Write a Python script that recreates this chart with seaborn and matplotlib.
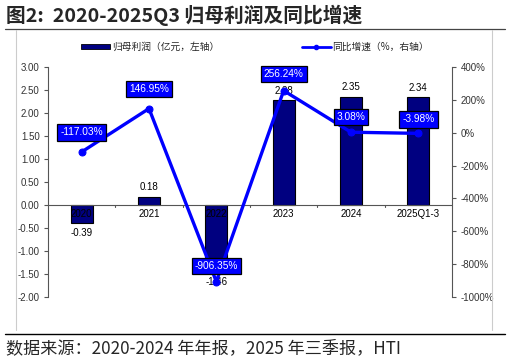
import numpy as np, pandas as pd
import matplotlib; matplotlib.use("Agg")
import matplotlib.pyplot as plt
from matplotlib.lines import Line2D
import seaborn as sns

sns.set_style("white")
plt.rcParams["font.family"] = ["Liberation Sans", "Noto Sans CJK SC", "DejaVu Sans"]

# ---------- data ----------
years = ["2020", "2021", "2022", "2023", "2024", "2025Q1-3"]
profit = [-0.39, 0.18, -1.46, 2.28, 2.35, 2.34]          # 亿元, left axis
growth = [-117.03, 146.95, -906.35, 256.24, 3.08, -3.98]  # %, right axis
left_ticks = [3.0, 2.5, 2.0, 1.5, 1.0, 0.5, 0.0, -0.5, -1.0, -1.5, -2.0]
right_ticks = [400, 200, 0, -200, -400, -600, -800, -1000]

df = pd.DataFrame({"year": years, "profit": profit, "growth": growth,
                   "pos": np.arange(len(years))})

W, H = 510, 361
fig = plt.figure(figsize=(W / 100, H / 100), dpi=100)
ax = fig.add_axes([48 / W, 1 - 297 / H, (452 - 48) / W, (297 - 67) / H])

NAVY = "#000080"
BLUE = "#0000FF"
TXT = "#333333"

sns.barplot(data=df, x="year", y="profit", color=NAVY, saturation=1, width=0.33,
            edgecolor="black", linewidth=0.8, ax=ax, zorder=2)
ax.set_xlim(-0.5, 5.5)
ax.set_ylim(-2.0, 3.0)
ax.set_yticks(left_ticks)
ax.set_yticklabels([f"{v:.2f}" for v in left_ticks], fontsize=7, color=TXT)
ax.set_xlabel(""); ax.set_ylabel("")
for s in ["top", "right", "bottom"]:
    ax.spines[s].set_visible(False)
ax.spines["left"].set_color("#555555"); ax.spines["left"].set_linewidth(0.8)
ax.tick_params(axis="y", length=3, width=0.8, color="#555555", pad=3)
ax.axhline(0, color="#555555", lw=0.8, zorder=3)
ax.set_xticks([])
for i, y in enumerate(years):
    ax.text(i, -0.08, y, ha="center", va="top", fontsize=7, color="black", zorder=6)
for b in np.arange(0.5, 5.5, 1.0):
    ax.plot([b, b], [0, -0.05], color="#555555", lw=0.8, zorder=3)
for i, v in enumerate(profit):
    if v < 0:
        ax.text(i, v - 0.1, f"{v:.2f}", ha="center", va="top", fontsize=7, color="black", zorder=6)
    else:
        ax.text(i, v + 0.1, f"{v:.2f}", ha="center", va="bottom", fontsize=7, color="black", zorder=6)

ax2 = ax.twinx()
sns.lineplot(data=df, x="pos", y="growth", color=BLUE, lw=2.4, marker="o", markersize=5,
             markeredgecolor=BLUE, ax=ax2, zorder=4)
ax2.set_xlim(-0.5, 5.5)
ax2.set_ylim(-1000, 400)
ax2.set_yticks(right_ticks)
ax2.set_yticklabels([f"{v}%" for v in right_ticks], fontsize=7, color=TXT)
ax2.set_xlabel(""); ax2.set_ylabel("")
for s in ["top", "left", "bottom"]:
    ax2.spines[s].set_visible(False)
ax2.spines["right"].set_color("#555555"); ax2.spines["right"].set_linewidth(0.8)
ax2.tick_params(axis="y", length=3, width=0.8, color="#555555", pad=3)

# growth labels (offsets in points)
offs = [(0, 14), (0, 14), (0, 11), (0, 12), (0, 11), (0, 10)]
for i, (v, o) in enumerate(zip(growth, offs)):
    ax2.annotate(f"{v:.2f}%", (i, v), xytext=o, textcoords="offset points",
                 ha="center", va="center", fontsize=7.3, color="white", zorder=7,
                 bbox=dict(boxstyle="square,pad=0.3", fc=BLUE, ec="black", lw=0.9))

# legend
h1 = plt.Rectangle((0, 0), 1, 1, fc=NAVY, ec="black", lw=0.6)
h2 = Line2D([0], [0], color=BLUE, lw=2, marker="o", markersize=3)
fig.legend([h1, h2], ["归母利润（亿元，左轴）", "同比增速（%，右轴）"], loc="center",
           bbox_to_anchor=(0.5, 1 - 47 / H), ncol=2, frameon=False,
           columnspacing=8.5, handlelength=3.0, handleheight=0.4, handletextpad=0.15,
           prop={"family": ["Noto Sans CJK SC"], "size": 7})

# title, frame, source
fig.text(6 / W, 1 - 15 / H, "图2:  2020-2025Q3 归母利润及同比增速", fontsize=14.2,
         fontweight="bold", family=["Noto Sans CJK SC"], va="center", ha="left")
fig.add_artist(Line2D([5 / W, 505 / W], [1 - 29 / H] * 2, color="#444444", lw=0.9))
fig.add_artist(Line2D([16 / W, 16 / W], [1 - 30 / H, 1 - 330 / H], color="#cccccc", lw=0.8))
fig.add_artist(Line2D([492 / W, 492 / W], [1 - 30 / H, 1 - 330 / H], color="#cccccc", lw=0.8))
fig.add_artist(Line2D([5 / W, 505 / W], [1 - 334 / H] * 2, color="black", lw=1.0))
fig.text(6 / W, 1 - 348 / H, "数据来源：2020-2024 年年报，2025 年三季报，HTI", fontsize=12.3,
         family=["Noto Sans CJK SC"], va="center", ha="left")

fig.savefig("out.png", dpi=100, facecolor="white")
